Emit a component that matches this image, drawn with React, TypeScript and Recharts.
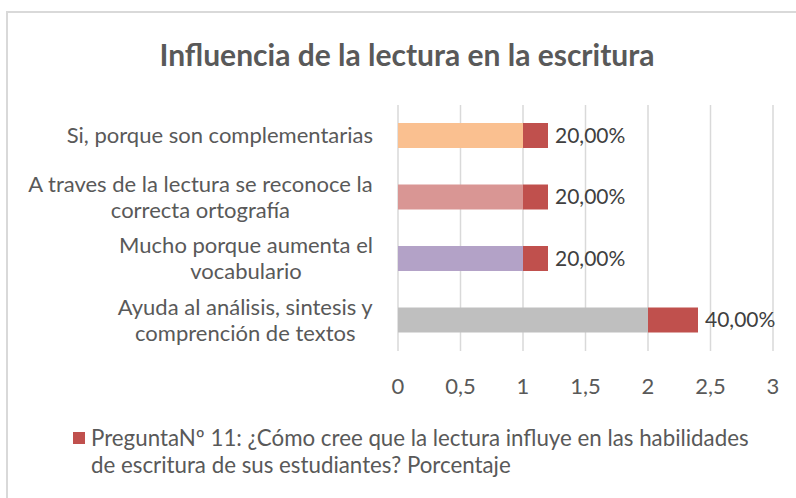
import React from "react";
import { BarChart, Bar, XAxis, YAxis, CartesianGrid, Cell, LabelList } from "recharts";

const title = "Influencia de la lectura en la escritura";
const categories = [
  "Si, porque son complementarias",
  "A traves de la lectura se reconoce la\ncorrecta ortografía",
  "Mucho porque aumenta el\nvocabulario",
  "Ayuda al análisis, sintesis y\ncomprención de textos",
];
const counts = [1, 1, 1, 2];
const percents = [0.2, 0.2, 0.2, 0.4];
const countColors = ["#FAC090", "#D99694", "#B3A2C7", "#BFBFBF"];
const xTicks = [0, 0.5, 1, 1.5, 2, 2.5, 3];
const seriesName = "PreguntaNº 11: ¿Cómo cree que la lectura influye en las habilidades\nde escritura de sus estudiantes? Porcentaje";

const data = categories.map((c, i) => ({ category: c, count: counts[i], pct: percents[i] }));

const FONT = "Lato, 'Open Sans', sans-serif";
const TEXT = "#595959";

let ctx: CanvasRenderingContext2D | null = null;
function measure(s: string, size: number) {
  if (!ctx) ctx = document.createElement("canvas").getContext("2d");
  if (!ctx) return s.length * size * 0.5;
  ctx.font = `${size}px Lato`;
  return ctx.measureText(s).width;
}

function CategoryTick(props: any) {
  const { x, y, payload } = props;
  const lines = String(payload.value).split("\n");
  const size = 22;
  const block = Math.max(...lines.map((l) => measure(l, size)));
  const cx = x - 17 - block / 2;
  const lh = 26;
  const top = y - ((lines.length - 1) * lh) / 2;
  return (
    <text textAnchor="middle" fill={TEXT} fontSize={size} fontFamily={FONT}>
      {lines.map((l, i) => (
        <tspan key={i} x={cx} y={top + i * lh} dy="0.35em">
          {l}
        </tspan>
      ))}
    </text>
  );
}

export default function App() {
  return (
    <div style={{ position: "absolute", left: 0, top: 0, width: 796, height: 498, overflow: "hidden", background: "#fff", fontFamily: FONT }}>
      <div style={{ position: "absolute", left: 6, top: 11, width: 820, height: 520, border: "2px solid #D9D9D9" }} />
      <div style={{ position: "absolute", left: 0, width: 814, top: 36, textAlign: "center", fontSize: 30, fontWeight: 700, color: TEXT }}>
        {title}
      </div>
      <div style={{ position: "absolute", left: 0, top: 0 }}>
        <BarChart
          width={796}
          height={498}
          data={data}
          layout="vertical"
          margin={{ top: 105, right: 23, bottom: 97, left: 0 }}
          barSize={25}
        >
          <CartesianGrid horizontal={false} stroke="#D9D9D9" strokeWidth={1.5} />
          <XAxis
            type="number"
            domain={[0, 3]}
            ticks={xTicks}
            axisLine={false}
            tickLine={false}
            height={50}
            tickMargin={21}
            tick={{ fill: TEXT, fontSize: 22, fontFamily: FONT }}
            tickFormatter={(v: number) => String(v).replace(".", ",")}
          />
          <YAxis type="category" dataKey="category" width={398} axisLine={false} tickLine={false} tick={<CategoryTick />} />
          <Bar dataKey="count" stackId="a" isAnimationActive={false}>
            {data.map((_, i) => (
              <Cell key={i} fill={countColors[i]} />
            ))}
          </Bar>
          <Bar dataKey="pct" stackId="a" fill="#C0504D" name={seriesName} isAnimationActive={false}>
            <LabelList
              dataKey="pct"
              position="right"
              offset={7}
              fill="#404040"
              fontSize={21}
              fontFamily={FONT}
              formatter={(v: any) => (Number(v) * 100).toFixed(2).replace(".", ",") + "%"}
            />
          </Bar>
        </BarChart>
      </div>
      <div style={{ position: "absolute", left: 73, top: 424, display: "flex", alignItems: "flex-start" }}>
        <div style={{ width: 12, height: 12, background: "#C0504D", marginTop: 8, marginRight: 6 }} />
        <div style={{ fontSize: 22.3, lineHeight: "27px", color: TEXT, whiteSpace: "pre-line" }}>{seriesName}</div>
      </div>
    </div>
  );
}
